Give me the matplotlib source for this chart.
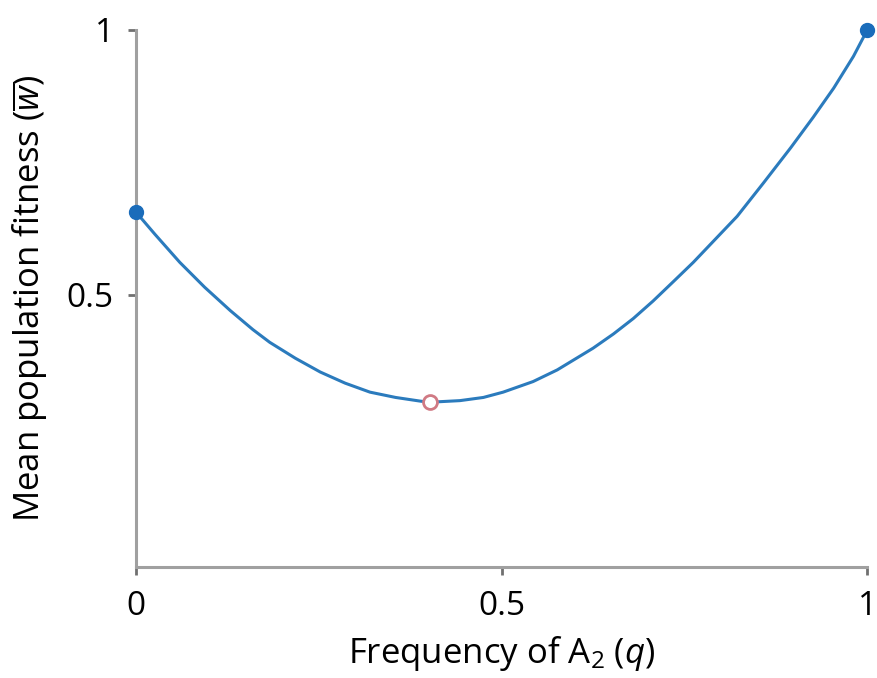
import matplotlib
matplotlib.use("Agg")
import matplotlib.pyplot as plt

# values
q = [0.0, 0.026, 0.06, 0.094, 0.129, 0.160, 0.183, 0.218, 0.252, 0.286,
     0.32, 0.355, 0.389, 0.402, 0.443, 0.475, 0.502, 0.543, 0.576, 0.625,
     0.653, 0.68, 0.707, 0.735, 0.762, 0.782, 0.822, 0.858, 0.895, 0.926,
     0.954, 0.981, 1.0]
w_bar = [0.656, 0.614, 0.561, 0.514, 0.470, 0.434, 0.410, 0.380, 0.354, 0.333,
         0.316, 0.306, 0.299, 0.297, 0.300, 0.306, 0.316, 0.336, 0.358, 0.399,
         0.426, 0.455, 0.488, 0.525, 0.561, 0.590, 0.648, 0.711, 0.777, 0.835,
         0.890, 0.950, 1.0]

stable_q = [0.0, 1.0]
stable_w = [0.656, 1.0]
unstable_q = [0.402]
unstable_w = [0.297]

xticks = [0, 0.5, 1]
xtick_labels = ["0", "0.5", "1"]
yticks = [0.5, 1]
ytick_labels = ["0.5", "1"]

plt.rcParams['font.family'] = ['Open Sans', 'DejaVu Sans']
plt.rcParams['mathtext.fontset'] = 'custom'
plt.rcParams['mathtext.rm'] = 'Open Sans'
plt.rcParams['mathtext.it'] = 'Open Sans:italic'

line_col = '#2b7bbd'
spine_col = '#a0a0a0'

fig = plt.figure(figsize=(8.77, 6.78), dpi=100)
ax = fig.add_axes([0.155, 0.163, 0.834, 0.793])

ax.plot(q, w_bar, color=line_col, lw=2.2, zorder=2)
ax.plot(stable_q, stable_w, 'o', color='#1a6cba', ms=10, zorder=3, clip_on=False)
ax.plot(unstable_q, unstable_w, 'o', mfc='white', mec='#d07a84', mew=2, ms=10,
        zorder=4)

ax.set_xlim(0, 1)
ax.set_ylim(-0.015, 1)

for side in ['top', 'right']:
    ax.spines[side].set_visible(False)
for side in ['left', 'bottom']:
    ax.spines[side].set_color(spine_col)
    ax.spines[side].set_linewidth(2.2)

ax.set_xticks(xticks)
ax.set_xticklabels(xtick_labels)
ax.set_yticks(yticks)
ax.set_yticklabels(ytick_labels)
ax.tick_params(colors='#707070', length=6, width=2, labelsize=24, pad=10,
               labelcolor='black')

ax.set_xlabel(r'Frequency of A$_2$ ($q$)', fontsize=25, labelpad=8)
ax.set_ylabel(r'Mean population fitness ($\overline{w}$)', fontsize=25, labelpad=12)

fig.savefig('out.png', dpi=100)
